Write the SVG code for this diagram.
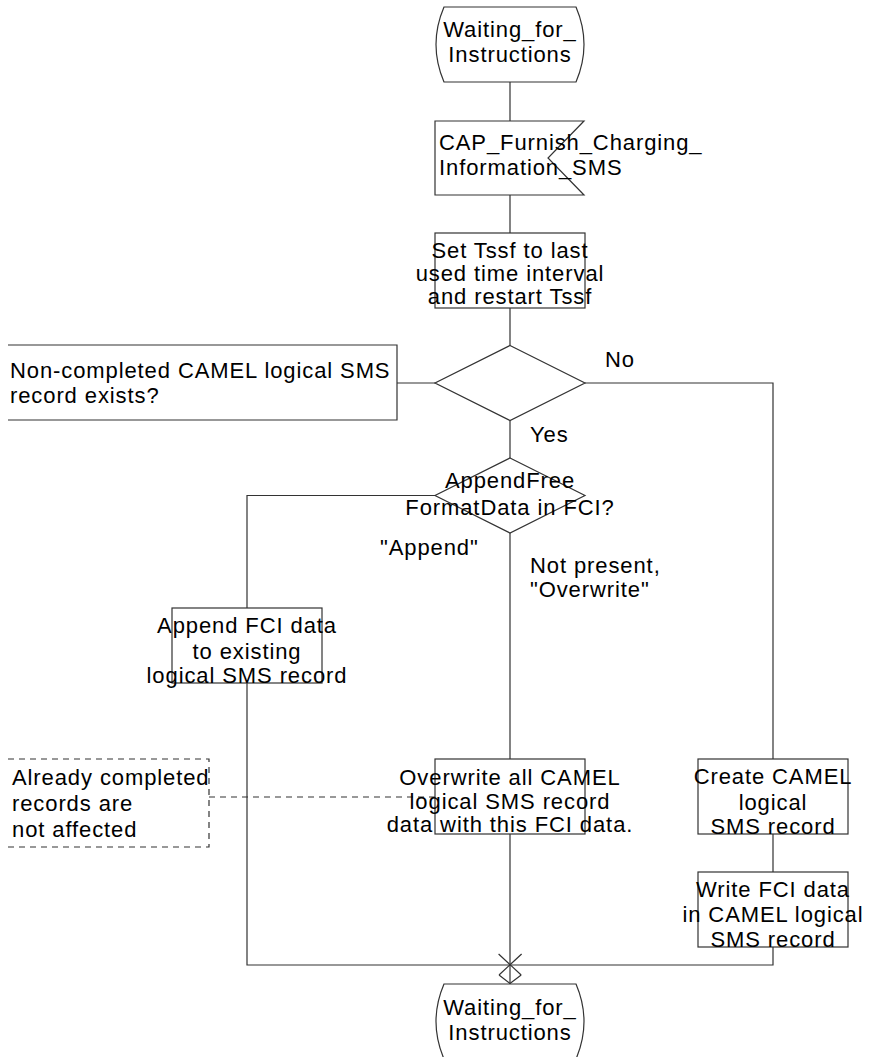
<svg xmlns="http://www.w3.org/2000/svg" width="874" height="1057" viewBox="0 0 874 1057">
<style>
.s{fill:#fff;stroke:#333;stroke-width:1.2}
.o{fill:none;stroke:#333;stroke-width:1.2}
.d{fill:none;stroke:#333;stroke-width:1.2;stroke-dasharray:6,5}
text{font-family:"Liberation Sans",Arial,sans-serif;font-size:22px;fill:#000;letter-spacing:0.9px}
.c{text-anchor:middle}
</style>
<rect width="874" height="1057" fill="#fff"/>
<g id="connectors">
<path class="o" d="M510,82V121M510,195V233M510,308V345.5M397,383H435M585,383H773V759M510,420.5V458M435,495.5H247V608M247,683V965H773V947M510,533V759M510,834V984M773,834V872"/>
<path class="d" d="M209,797H435"/>
<path class="o" d="M498.6,954L521.2,975M521.6,954L499,975M499,975L510,983.5L521.2,975"/>
</g>
<g id="state_top">
<path class="s" d="M444,7H576Q592,44.5 576,82H444Q428,44.5 444,7Z"/>
<text class="c" x="510" y="37">Waiting_for_</text>
<text class="c" x="510" y="62">Instructions</text>
</g>
<g id="input_signal">
<polygon class="s" points="435,121 584,121 548,158 584,195 435,195"/>
<text x="439" y="150">CAP_Furnish_Charging_</text>
<text x="439" y="175">Information_SMS</text>
</g>
<g id="task_tssf">
<rect class="s" x="435" y="233" width="150" height="75"/>
<text class="c" x="510" y="257.5">Set Tssf to last</text>
<text class="c" x="510" y="281">used time interval</text>
<text class="c" x="510" y="304">and restart Tssf</text>
</g>
<g id="decision1">
<polygon class="s" points="510,345.5 585,383 510,420.5 435,383"/>
</g>
<g id="decision1_text">
<path class="o" d="M8,345H397V420H8"/>
<text x="10" y="377.5">Non-completed CAMEL logical SMS</text>
<text x="10" y="402.5">record exists?</text>
</g>
<g id="labels">
<text x="605" y="366.5">No</text>
<text x="530" y="441.5">Yes</text>
<text x="380" y="555">"Append"</text>
<text x="530" y="573">Not present,</text>
<text x="530" y="597">"Overwrite"</text>
</g>
<g id="decision2">
<polygon class="s" points="510,458 585,495.5 510,533 435,495.5"/>
<text class="c" x="510" y="488">AppendFree</text>
<text class="c" x="510" y="515">FormatData in FCI?</text>
</g>
<g id="task_append">
<rect class="s" x="172" y="608" width="150" height="75"/>
<text class="c" x="247" y="633">Append FCI data</text>
<text class="c" x="247" y="659">to existing</text>
<text class="c" x="247" y="683">logical SMS record</text>
</g>
<g id="comment">
<path class="d" d="M8,759H209V847H8"/>
<text x="12" y="785">Already completed</text>
<text x="12" y="811">records are</text>
<text x="12" y="836.5">not affected</text>
</g>
<g id="task_overwrite">
<rect class="s" x="435" y="759" width="150" height="75"/>
<text class="c" x="510" y="785">Overwrite all CAMEL</text>
<text class="c" x="510" y="809">logical SMS record</text>
<text class="c" x="510" y="832">data with this FCI data.</text>
</g>
<g id="task_create">
<rect class="s" x="698" y="759" width="150" height="75"/>
<text class="c" x="773" y="784">Create CAMEL</text>
<text class="c" x="773" y="810">logical</text>
<text class="c" x="773" y="834">SMS record</text>
</g>
<g id="task_write">
<rect class="s" x="698" y="872" width="150" height="75"/>
<text class="c" x="773" y="897">Write FCI data</text>
<text class="c" x="773" y="922">in CAMEL logical</text>
<text class="c" x="773" y="947">SMS record</text>
</g>
<g id="state_bottom">
<path class="s" d="M444,984H576Q592,1021.5 576,1059H444Q428,1021.5 444,984Z"/>
<text class="c" x="510" y="1015">Waiting_for_</text>
<text class="c" x="510" y="1040">Instructions</text>
</g>
</svg>
